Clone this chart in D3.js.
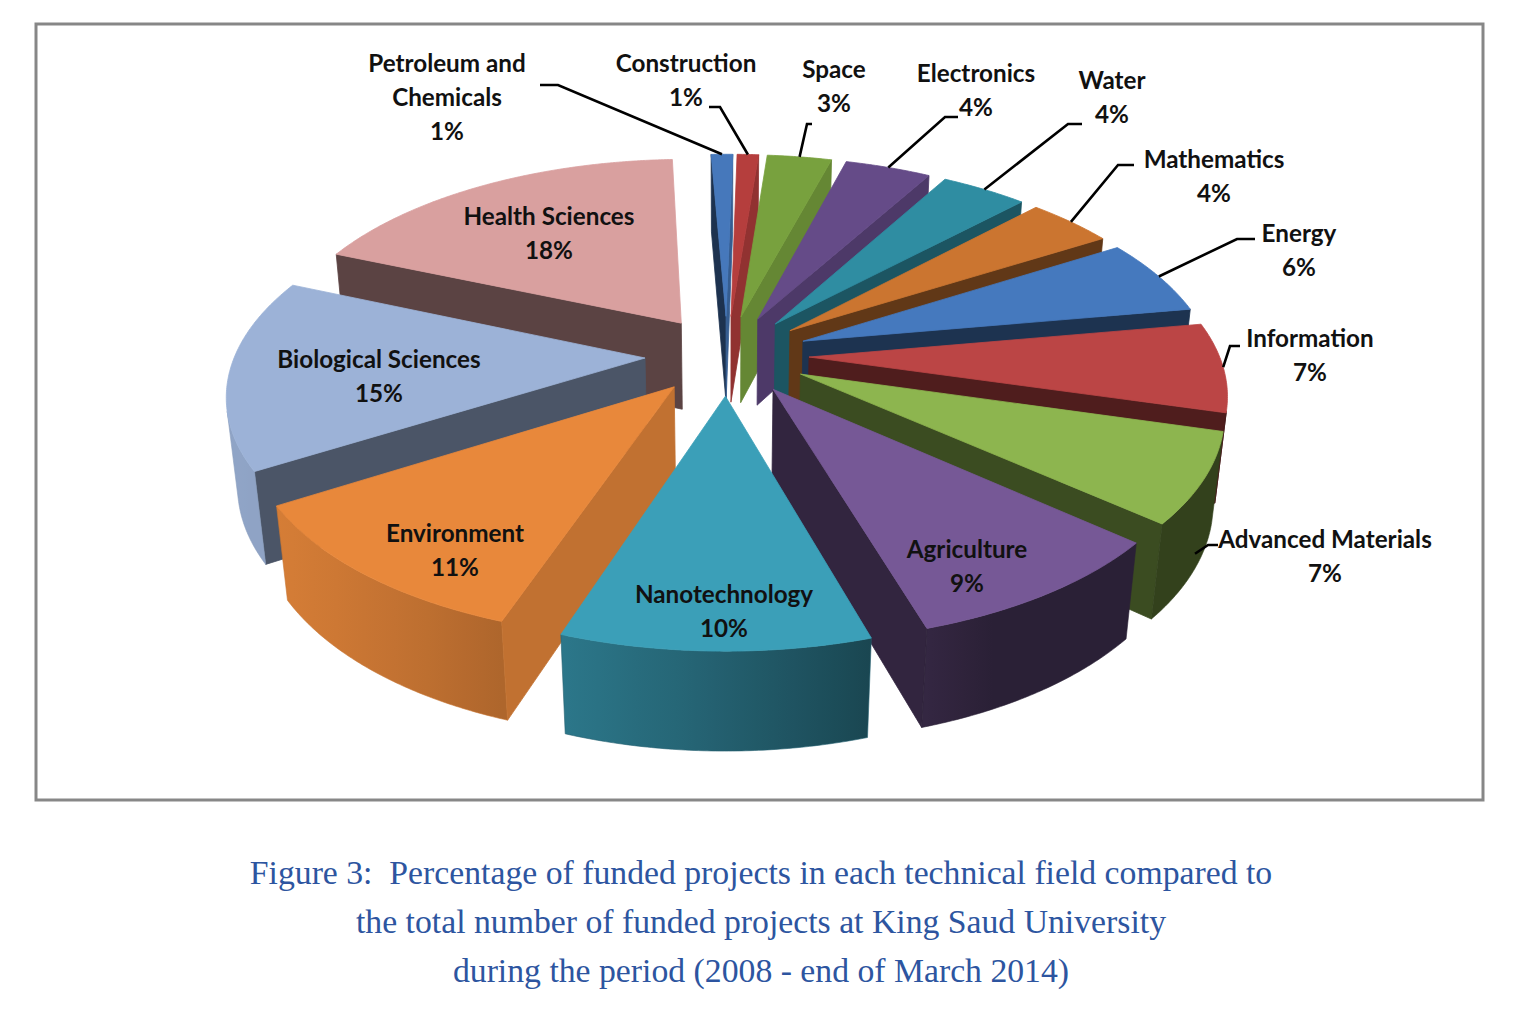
<!DOCTYPE html>
<html>
<head>
<meta charset="utf-8">
<script src="https://d3js.org/d3.v7.min.js"></script>
<style>
    body { margin: 0; background: #fff; }
    svg { display: block; }
    .lbl { font-family: Lato, "Open Sans", sans-serif; font-weight: 700; fill: #111; }
    .cap { font-family: "Liberation Serif", serif; fill: #2d55a0; white-space: pre; }
</style>
</head>
<body>
<svg id="chart" width="1526" height="1030"></svg>
<script>
// ---- data ----
const categories = ["Petroleum and Chemicals", "Construction", "Space", "Electronics", "Water", "Mathematics",
    "Energy", "Information", "Advanced Materials", "Agriculture", "Nanotechnology", "Environment",
    "Biological Sciences", "Health Sciences"];
const percents = [1, 1, 3, 4, 4, 4, 6, 7, 7, 9, 10, 11, 15, 18];
const sliceColors = ["#4678bb", "#b53e3d", "#78a13e", "#654b88", "#2f8da2", "#cb7530", "#4579be",
    "#bb4545", "#8db54f", "#765896", "#3b9fb8", "#e8883b", "#9cb2d7", "#d9a09f"];
const captionLines = [
    "Figure 3:  Percentage of funded projects in each technical field compared to",
    "the total number of funded projects at King Saud University",
    "during the period (2008 - end of March 2014)"
];

// where the labels sit (centre of first line) and the little horizontal elbow of each leader
const labelLayout = [
    {x: 447, y: 62, wrap: 2, stub: [540, 558, 85], drop: 0},
    {x: 686, y: 62, stub: [709, 720, 107], drop: 0},
    {x: 834, y: 68, stub: [812, 807, 124], drop: 0},
    {x: 976, y: 72, stub: [958, 945, 117], drop: 0},
    {x: 1112, y: 79, stub: [1082, 1068, 124], drop: 0},
    {x: 1214, y: 158, stub: [1134, 1118, 165], drop: 0},
    {x: 1299, y: 232, stub: [1255, 1237, 239], drop: 0},
    {x: 1310, y: 337, stub: [1240, 1230, 346], drop: 0},
    {x: 1325, y: 538, stub: [1218, 1208, 545], drop: 0.8},
    {x: 967, y: 548},
    {x: 724, y: 593},
    {x: 455, y: 532},
    {x: 379, y: 358},
    {x: 549, y: 215}
];

// ---- 3d setup ----
const CX = 727, CY = 355, SCALE = 410;
const TILT = 29.1 * Math.PI / 180, DIST = 5.46;
const HEIGHT = 0.25, EXPLODE = 0.2, ROT = -2.5 * Math.PI / 180;
const sinT = Math.sin(TILT), cosT = Math.cos(TILT);
const cam = [0, DIST * cosT, DIST * sinT];

const svg = d3.select("#chart");
const defs = svg.append("defs");

svg.append("rect")
    .attr("x", 36).attr("y", 24).attr("width", 1447).attr("height", 776)
    .attr("fill", "#fff").attr("stroke", "#878787").attr("stroke-width", 3);

let xScale = d3.scaleLinear().domain([-1, 1]).range([CX - SCALE, CX + SCALE]);
let yScale = d3.scaleLinear().domain([-1, 1]).range([CY - SCALE, CY + SCALE]);

function project(p) {
    let q = 1 - (p[1] * cosT + p[2] * sinT) / DIST;
    return [xScale(p[0] / q), yScale((p[1] * sinT - p[2] * cosT) / q)];
}

function facing(n, p) {
    return n[0] * (cam[0] - p[0]) + n[1] * (cam[1] - p[1]) + n[2] * (cam[2] - p[2]) > 0;
}

function shade(c, k) {
    let col = d3.rgb(c);
    return d3.rgb(col.r * k, col.g * k, col.b * k).formatHex();
}
// light on the curved rim comes from the left, the flat cuts are lit from the right
function rimLight(phi) {
    return 0.36 + 0.56 * Math.max(0, Math.cos(phi - 245 * Math.PI / 180));
}
function cutLight(phi) {
    return 0.42 + 0.42 * Math.pow(Math.max(0, Math.cos(phi - 105 * Math.PI / 180)), 6);
}
function normalAngle(n) { return Math.atan2(n[0], -n[1]); }

const poly = d3.line().curve(d3.curveLinearClosed);

let arcs = d3.pie().sort(null).startAngle(ROT).endAngle(ROT + 2 * Math.PI)(percents);

let slices = arcs.map((a, i) => {
    let mid = (a.startAngle + a.endAngle) / 2;
    let ox = EXPLODE * Math.sin(mid), oy = -EXPLODE * Math.cos(mid);
    let rim = (ang, z, r = 1) => [ox + r * Math.sin(ang), oy - r * Math.cos(ang), z];
    let n = Math.max(2, Math.ceil((a.endAngle - a.startAngle) / (Math.PI / 360)));
    let angs = d3.range(n + 1).map(k => a.startAngle + (a.endAngle - a.startAngle) * k / n);
    let c = rim(mid, -HEIGHT / 2, 0.55);
    let dist = Math.hypot(c[0] - cam[0], c[1] - cam[1], c[2] - cam[2]);
    return {i, a, mid, ox, oy, rim, angs, dist};
});

// painter's order: farthest slice first
slices.sort((p, q) => q.dist - p.dist);

let pie = svg.append("g").attr("class", "pie");

slices.forEach(s => {
    let g = pie.append("g").attr("class", "slice");
    let base = sliceColors[s.i];
    let top = [s.ox, s.oy, 0], bot = [s.ox, s.oy, -HEIGHT];
    let face = (pts, fill) => g.append("path")
        .attr("d", poly(pts.map(project)))
        .attr("fill", fill).attr("stroke", fill).attr("stroke-width", 0.8)
        .attr("stroke-linejoin", "round");

    // the two flat cuts
    let a0 = s.a.startAngle, a1 = s.a.endAngle;
    let n0 = [-Math.cos(a0), -Math.sin(a0), 0];
    let n1 = [Math.cos(a1), Math.sin(a1), 0];
    if (facing(n0, top)) face([top, s.rim(a0, 0), s.rim(a0, -HEIGHT), bot], shade(base, cutLight(normalAngle(n0))));
    if (facing(n1, top)) face([top, s.rim(a1, 0), s.rim(a1, -HEIGHT), bot], shade(base, cutLight(normalAngle(n1))));

    // curved rim, only the part turned toward the camera
    let vis = s.angs.filter(t => facing([Math.sin(t), -Math.cos(t), 0], s.rim(t, 0)));
    if (vis.length > 1) {
        let upper = vis.map(t => s.rim(t, 0));
        let lower = vis.map(t => s.rim(t, -HEIGHT)).reverse();
        let pu = upper.map(project);
        let xa = pu[0][0], xb = pu[pu.length - 1][0];
        let id = "rim" + s.i;
        let grad = defs.append("linearGradient").attr("id", id)
            .attr("gradientUnits", "userSpaceOnUse")
            .attr("x1", xa).attr("x2", xb).attr("y1", 0).attr("y2", 0);
        let step = Math.max(1, Math.floor(vis.length / 8));
        vis.forEach((t, k) => {
            if (k % step && k !== vis.length - 1) return;
            let off = Math.abs(xb - xa) < 1 ? 0 : (pu[k][0] - xa) / (xb - xa);
            grad.append("stop").attr("offset", Math.max(0, Math.min(1, off)))
                .attr("stop-color", shade(base, rimLight(t)));
        });
        g.append("path")
            .attr("d", poly(upper.concat(lower).map(project)))
            .attr("fill", `url(#${id})`).attr("stroke", shade(base, rimLight(s.mid)))
            .attr("stroke-width", 0.6);
    }

    // top face
    face([top].concat(s.angs.map(t => s.rim(t, 0))), base);
});

// ---- labels ----
let labels = svg.append("g");
let probe = labels.append("text").attr("class", "lbl").style("font-size", "24px").text("Health Sciences");
let fontSize = 24 * 171 / probe.node().getComputedTextLength();
probe.remove();

labelLayout.forEach((L, i) => {
    let words = categories[i].split(" ");
    let lines = L.wrap ? [words.slice(0, L.wrap).join(" "), words.slice(L.wrap).join(" ")] : [categories[i]];
    lines.push(percents[i] + "%");
    let t = labels.append("text").attr("class", "lbl")
        .style("font-size", fontSize + "px")
        .attr("text-anchor", "middle");
    lines.forEach((ln, k) => {
        t.append("tspan").attr("x", L.x).attr("y", L.y + k * 34)
            .attr("dominant-baseline", "central").text(ln);
    });
    if (L.stub) {
        let s = slices.find(d => d.i === i);
        let anchor = project(s.rim(s.mid, -HEIGHT * L.drop));
        labels.append("path")
            .attr("d", d3.line()([[L.stub[0], L.stub[2]], [L.stub[1], L.stub[2]], anchor]))
            .attr("fill", "none").attr("stroke", "#000").attr("stroke-width", 2.6);
    }
});

// ---- caption ----
let cap = svg.append("g");
let probe2 = cap.append("text").attr("class", "cap").style("font-size", "30px").text(captionLines[0]);
let capSize = 30 * 1023 / probe2.node().getComputedTextLength();
probe2.remove();
captionLines.forEach((ln, k) => {
    cap.append("text").attr("class", "cap")
        .style("font-size", capSize + "px")
        .attr("x", 761).attr("y", 884 + k * 49)
        .attr("text-anchor", "middle")
        .text(ln);
});
</script>
</body>
</html>
